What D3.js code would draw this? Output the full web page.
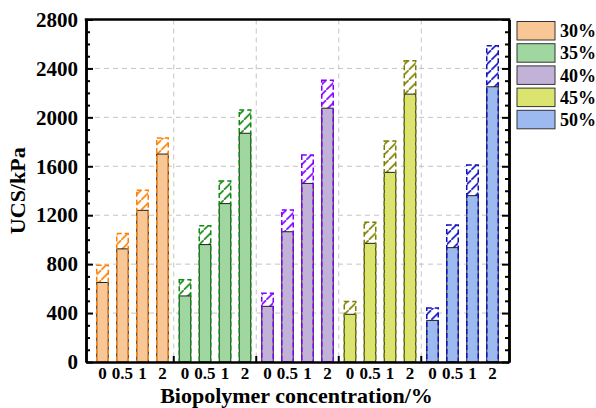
<!DOCTYPE html>
<html>
<head>
<meta charset="utf-8">
<script src="https://cdn.jsdelivr.net/npm/d3@7"></script>
<style>
  body { margin: 0; background: #fff; }
  svg { display: block; font-family: "Liberation Serif", "Times New Roman", serif; font-weight: bold; }
</style>
</head>
<body>
<svg id="chart" width="596" height="408"></svg>
<script>
// porosity groups and biopolymer concentrations
const groups = ["30%", "35%", "40%", "45%", "50%"];
const concentrations = ["0", "0.5", "1", "2"];

// UCS of solid bars (kPa)
const ucs30 = [650, 925, 1240, 1700];
const ucs35 = [540, 960, 1295, 1870];
const ucs40 = [455, 1065, 1460, 2075];
const ucs45 = [390, 970, 1550, 2190];
const ucs50 = [340, 935, 1360, 2250];

// top of the hatched back bars (kPa)
const top30 = [790, 1050, 1405, 1832];
const top35 = [672, 1113, 1480, 2060];
const top40 = [563, 1243, 1692, 2304];
const top45 = [495, 1143, 1806, 2462];
const top50 = [441, 1121, 1611, 2586];

const yTicks = [0, 400, 800, 1200, 1600, 2000, 2400, 2800];
const yMinor = d3.range(0, 2801, 100).filter(d => d % 400 !== 0);

const fills = ["#f9c795", "#a0d6a0", "#c2b2d8", "#dae46e", "#9cbaf0"];
const hatchColors = ["#ff8000", "#108a10", "#8000ff", "#808000", "#1010c0"];

const ucsAll = [ucs30, ucs35, ucs40, ucs45, ucs50];
const topAll = [top30, top35, top40, top45, top50];

const svg = d3.select("#chart");
const pLeft = 86, pRight = 509, pTop = 19.5, pBottom = 362;

const x0 = d3.scaleBand().domain(groups).range([pLeft, pRight]).paddingInner(0).paddingOuter(0.0636);
const x1 = d3.scaleBand().domain(concentrations).range([0, x0.bandwidth()]).paddingInner(0.425).paddingOuter(0.275);
const y = d3.scaleLinear().domain([0, 2800]).range([pBottom, pTop]);

// hatch patterns
const defs = svg.append("defs");
groups.forEach((g, i) => {
  const p = defs.append("pattern")
    .attr("id", "hatch" + i)
    .attr("patternUnits", "userSpaceOnUse")
    .attr("width", 10).attr("height", 10);
  p.append("rect").attr("width", 10).attr("height", 10).attr("fill", "#fff");
  p.append("path")
    .attr("d", "M-1,11 L11,-1")
    .attr("stroke", hatchColors[i])
    .attr("stroke-width", 1.6);
});

// grid
svg.append("g").selectAll("line")
  .data(yTicks.slice(1, -1))
  .enter().append("line")
  .attr("x1", pLeft).attr("x2", pRight)
  .attr("y1", d => y(d)).attr("y2", d => y(d))
  .attr("stroke", "#c4c4c4").attr("stroke-dasharray", "5,4");

svg.append("g").selectAll("line")
  .data(groups.slice(1))
  .enter().append("line")
  .attr("x1", d => x0(d)).attr("x2", d => x0(d))
  .attr("y1", pTop).attr("y2", pBottom)
  .attr("stroke", "#c4c4c4").attr("stroke-dasharray", "5,4");

const textStyle = (sel, size) => sel
  .attr("font-size", size).attr("font-family", null).attr("font-weight", "bold").attr("fill", "#000");

// bars
groups.forEach((g, gi) => {
  const rows = concentrations.map((c, ci) => ({ c: c, v: ucsAll[gi][ci], t: topAll[gi][ci] }));
  const grp = svg.append("g").attr("transform", "translate(" + x0(g) + ",0)");

  grp.selectAll("rect.back")
    .data(rows).enter().append("rect")
    .attr("class", "back")
    .attr("x", d => x1(d.c))
    .attr("width", x1.bandwidth())
    .attr("y", d => y(d.t))
    .attr("height", d => pBottom - y(d.t))
    .attr("fill", "url(#hatch" + gi + ")");

  grp.selectAll("rect.front")
    .data(rows).enter().append("rect")
    .attr("class", "front")
    .attr("x", d => x1(d.c))
    .attr("width", x1.bandwidth())
    .attr("y", d => y(d.v))
    .attr("height", d => pBottom - y(d.v))
    .attr("fill", fills[gi])
    .attr("stroke", "#222").attr("stroke-width", 1);

  grp.selectAll("rect.outline")
    .data(rows).enter().append("rect")
    .attr("class", "outline")
    .attr("x", d => x1(d.c))
    .attr("width", x1.bandwidth())
    .attr("y", d => y(d.t))
    .attr("height", d => pBottom - y(d.t))
    .attr("fill", "none")
    .attr("stroke", hatchColors[gi]).attr("stroke-width", 1.5)
    .attr("stroke-dasharray", "5,3");

  // concentration labels
  grp.append("g")
    .attr("transform", "translate(0," + pBottom + ")")
    .call(d3.axisBottom(x1).tickSize(0).tickPadding(5))
    .call(a => a.select(".domain").remove())
    .call(a => textStyle(a, 17));
});

// axes
const axisStyle = a => {
  a.select(".domain").attr("stroke", "#000").attr("stroke-width", 2.5);
  a.selectAll(".tick line").attr("stroke", "#000").attr("stroke-width", 2);
};

svg.append("g")
  .attr("transform", "translate(" + pLeft + ",0)")
  .call(d3.axisLeft(y).tickValues(yMinor).tickSize(-4).tickSizeOuter(0).tickFormat(""))
  .call(axisStyle);
svg.append("g")
  .attr("transform", "translate(" + pLeft + ",0)")
  .call(d3.axisLeft(y).tickValues(yTicks).tickSize(-7).tickSizeOuter(0).tickPadding(8).tickFormat(d3.format("d")))
  .call(axisStyle)
  .call(a => textStyle(a, 21));

svg.append("g")
  .attr("transform", "translate(" + pRight + ",0)")
  .call(d3.axisRight(y).tickValues(yMinor).tickSize(-4).tickSizeOuter(0).tickFormat(""))
  .call(axisStyle);
svg.append("g")
  .attr("transform", "translate(" + pRight + ",0)")
  .call(d3.axisRight(y).tickValues(yTicks).tickSize(-7).tickSizeOuter(0).tickFormat(""))
  .call(axisStyle);

svg.append("g")
  .attr("transform", "translate(0," + pBottom + ")")
  .call(d3.axisBottom(d3.scaleLinear().range([pLeft, pRight])).tickValues([]).tickSizeOuter(0))
  .call(axisStyle);
svg.append("g").selectAll("line")
  .data(groups.slice(1))
  .enter().append("line")
  .attr("x1", d => x0(d)).attr("x2", d => x0(d))
  .attr("y1", pBottom).attr("y2", pBottom - 6)
  .attr("stroke", "#000").attr("stroke-width", 2);

svg.append("line")
  .attr("x1", pLeft - 1.25).attr("x2", pRight + 1.25)
  .attr("y1", pTop).attr("y2", pTop)
  .attr("stroke", "#000").attr("stroke-width", 2.5);

// titles
svg.append("text")
  .attr("transform", "translate(25," + (pTop + pBottom) / 2 + ") rotate(-90)")
  .attr("text-anchor", "middle")
  .attr("font-size", 22)
  .text("UCS/kPa");

svg.append("text")
  .attr("x", 296.5).attr("y", 403)
  .attr("text-anchor", "middle")
  .attr("font-size", 22)
  .text("Biopolymer concentration/%");

// legend
const legend = svg.append("g").attr("transform", "translate(517,21.5)");
const item = legend.selectAll("g")
  .data(groups).enter().append("g")
  .attr("transform", (d, i) => "translate(0," + i * 22.2 + ")");
item.append("rect")
  .attr("width", 38).attr("height", 18.5)
  .attr("fill", (d, i) => fills[i])
  .attr("stroke", "#333").attr("stroke-width", 1);
item.append("text")
  .attr("x", 43).attr("y", 15.6)
  .attr("font-size", 18)
  .text(d => d);
</script>
</body>
</html>
